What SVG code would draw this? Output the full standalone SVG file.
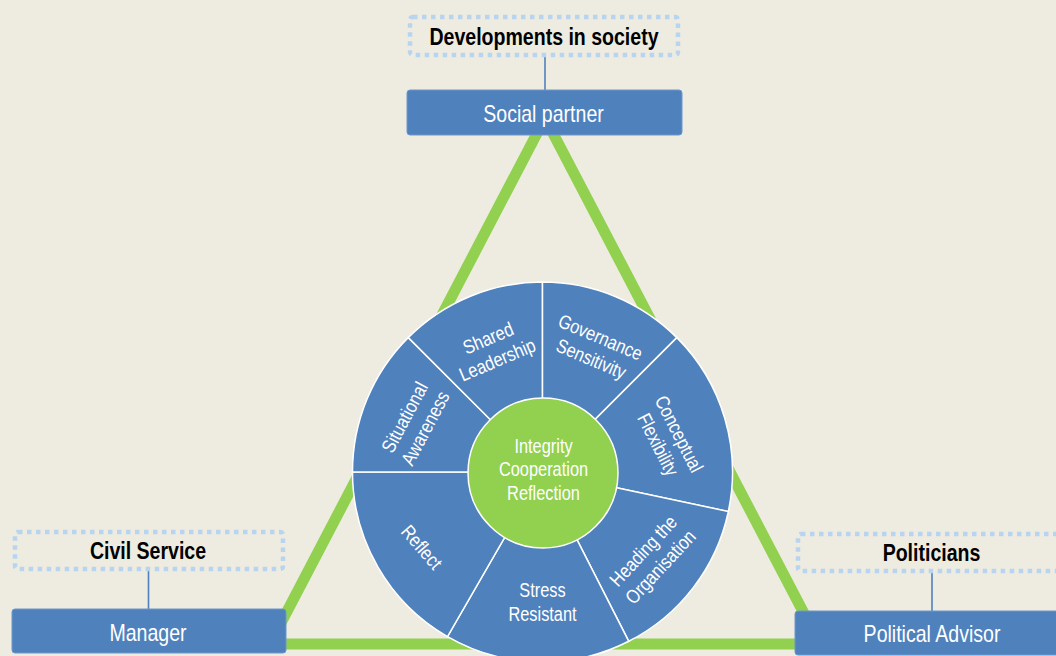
<svg xmlns="http://www.w3.org/2000/svg" width="1056" height="656" viewBox="0 0 1056 656">
  <defs>
    <style>
      .bg { fill: #EEECE1; }
      .role { fill: #4F81BD; stroke: #6E97C9; stroke-width: 1; }
      .ctx { fill: none; stroke: #B8D4EE; stroke-width: 4.5; stroke-dasharray: 4.5 4.5; }
      .tie { stroke: #4F81BD; stroke-width: 1.6; fill: none; }
      .tri { stroke: #92D050; stroke-width: 11; fill: none; stroke-linejoin: miter; }
      .seg { fill: #4F81BD; stroke: #FFFFFF; stroke-width: 1.5; }
      .core { fill: #92D050; stroke: #FFFFFF; stroke-width: 1.5; }
      .t-role { font-family: "Liberation Sans", Arial, sans-serif; font-size: 23px; fill: #FFFFFF; text-anchor: middle; }
      .t-ctx { font-family: "Liberation Sans", Arial, sans-serif; font-size: 23px; font-weight: bold; fill: #000000; text-anchor: middle; }
      .t-seg { font-family: "Liberation Sans", Arial, sans-serif; font-size: 19.5px; fill: #FFFFFF; text-anchor: middle; }
    </style>
  </defs>

  <rect class="bg" x="0" y="0" width="1056" height="656"/>

  <!-- connectors: the green triangle between the three roles and the ties to their contexts -->
  <g id="connectors">
    <polygon class="tri" points="545,118 820,644 270,644"/>
    <line class="tie" x1="545" y1="57" x2="545" y2="90"/>
    <line class="tie" x1="148.5" y1="571" x2="148.5" y2="609"/>
    <line class="tie" x1="932" y1="573" x2="932" y2="611"/>
  </g>

  <!-- competence wheel -->
  <g id="wheel">
    <g id="seg-shared-leadership">
      <path class="seg" d="M542.5,472 L408.15,337.65 A190,190 0 0 1 542.5,282 Z"/>
      <g transform="translate(492.5,348.5) rotate(-23)">
        <text class="t-seg" transform="scale(0.84,1)" x="0" y="-4.5">Shared</text>
        <text class="t-seg" transform="scale(0.84,1)" x="0" y="19">Leadership</text>
      </g>
    </g>
    <g id="seg-governance-sensitivity">
      <path class="seg" d="M542.5,472 L542.5,282 A190,190 0 0 1 676.85,337.65 Z"/>
      <g transform="translate(596,347.5) rotate(23)">
        <text class="t-seg" transform="scale(0.84,1)" x="0" y="-4.5">Governance</text>
        <text class="t-seg" transform="scale(0.84,1)" x="0" y="19">Sensitivity</text>
      </g>
    </g>
    <g id="seg-conceptual-flexibility">
      <path class="seg" d="M542.5,472 L676.85,337.65 A190,190 0 0 1 728.35,511.5 Z"/>
      <g transform="translate(669,439) rotate(63)">
        <text class="t-seg" transform="scale(0.84,1)" x="0" y="-4.5">Conceptual</text>
        <text class="t-seg" transform="scale(0.84,1)" x="0" y="19">Flexibility</text>
      </g>
    </g>
    <g id="seg-heading-the-organisation">
      <path class="seg" d="M542.5,472 L728.35,511.5 A190,190 0 0 1 628.76,641.29 Z"/>
      <g transform="translate(651.5,558.5) rotate(-47)">
        <text class="t-seg" transform="scale(0.84,1)" x="0" y="-4.5">Heading the</text>
        <text class="t-seg" transform="scale(0.84,1)" x="0" y="19">Organisation</text>
      </g>
    </g>
    <g id="seg-stress-resistant">
      <path class="seg" d="M542.5,472 L628.76,641.29 A190,190 0 0 1 447.5,636.55 Z"/>
      <text class="t-seg" transform="translate(542.5,597) scale(0.84,1)" x="0" y="0">Stress</text>
      <text class="t-seg" transform="translate(542.5,621) scale(0.84,1)" x="0" y="0">Resistant</text>
    </g>
    <g id="seg-reflect">
      <path class="seg" d="M542.5,472 L447.5,636.55 A190,190 0 0 1 352.5,472 Z"/>
      <g transform="translate(422,547) rotate(49)">
        <text class="t-seg" transform="scale(0.84,1)" x="0" y="7">Reflect</text>
      </g>
    </g>
    <g id="seg-situational-awareness">
      <path class="seg" d="M542.5,472 L352.5,472 A190,190 0 0 1 408.15,337.65 Z"/>
      <g transform="translate(414.5,422.5) rotate(-62)">
        <text class="t-seg" transform="scale(0.84,1)" x="0" y="-4.5">Situational</text>
        <text class="t-seg" transform="scale(0.84,1)" x="0" y="19">Awareness</text>
      </g>
    </g>
    <g id="core-values">
      <circle class="core" cx="543" cy="473" r="75"/>
      <text class="t-seg" transform="translate(543.5,452.5) scale(0.84,1)" x="0" y="0">Integrity</text>
      <text class="t-seg" transform="translate(543.5,476) scale(0.84,1)" x="0" y="0">Cooperation</text>
      <text class="t-seg" transform="translate(543.5,499.5) scale(0.84,1)" x="0" y="0">Reflection</text>
    </g>
  </g>

  <!-- context labels -->
  <g id="ctx-developments-in-society">
    <rect class="ctx" x="410" y="17" width="268" height="38" rx="3"/>
    <text class="t-ctx" transform="translate(544,45) scale(0.85,1)" x="0" y="0">Developments in society</text>
  </g>
  <g id="ctx-civil-service">
    <rect class="ctx" x="15" y="532" width="268" height="37" rx="3"/>
    <text class="t-ctx" transform="translate(148,559) scale(0.85,1)" x="0" y="0">Civil Service</text>
  </g>
  <g id="ctx-politicians">
    <rect class="ctx" x="798" y="534" width="268" height="37" rx="3"/>
    <text class="t-ctx" transform="translate(931.5,561) scale(0.85,1)" x="0" y="0">Politicians</text>
  </g>

  <!-- roles at the triangle corners -->
  <g id="role-social-partner">
    <rect class="role" x="407" y="90" width="275" height="45" rx="3"/>
    <text class="t-role" transform="translate(543.5,122) scale(0.85,1)" x="0" y="0">Social partner</text>
  </g>
  <g id="role-manager">
    <rect class="role" x="12" y="609" width="274" height="44" rx="3"/>
    <text class="t-role" transform="translate(148,641) scale(0.85,1)" x="0" y="0">Manager</text>
  </g>
  <g id="role-political-advisor">
    <rect class="role" x="795" y="611" width="275" height="44" rx="3"/>
    <text class="t-role" transform="translate(932,642) scale(0.85,1)" x="0" y="0">Political Advisor</text>
  </g>
</svg>
